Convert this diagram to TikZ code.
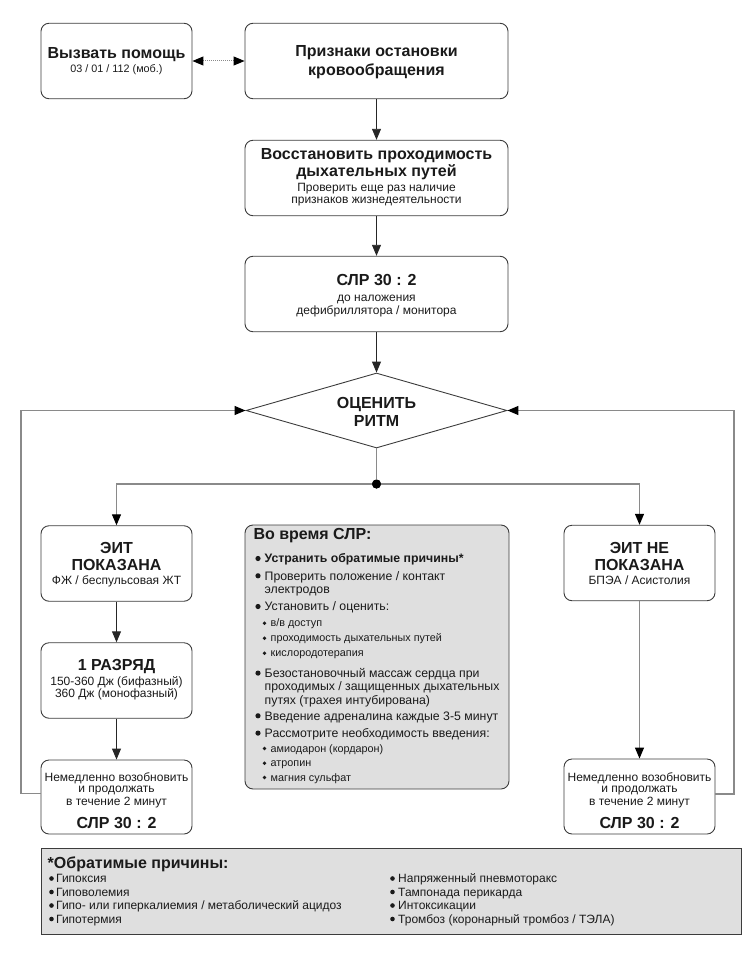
\documentclass[tikz,border=0pt]{standalone}
\usepackage{fontspec}
\setmainfont{Liberation Sans}
\usetikzlibrary{shapes.geometric,arrows.meta}
\definecolor{edge}{HTML}{3C3C3C}
\definecolor{lgray}{HTML}{8A8A8A}
\definecolor{boxfill}{HTML}{DFDFDF}
\definecolor{ink}{HTML}{1A1A1A}
\newcommand\fT{\fontsize{16}{19}\selectfont\bfseries}
\newcommand\fS{\fontsize{12}{14}\selectfont}
\newcommand\fSs{\fontsize{10.8}{13}\selectfont}
\newcommand\fM{\fontsize{12.3}{15}\selectfont}
\newcommand\fX{\fontsize{10.8}{12}\selectfont}
\begin{document}
\begin{tikzpicture}[x=1pt,y=-1pt,
  box/.style={draw=edge, line width=0.9pt, rounded corners=8pt, minimum height=75.5pt, inner sep=0pt},
  txt/.style={anchor=base, inner sep=0pt, text=ink},
  ltxt/.style={anchor=base west, inner sep=0pt, text=ink},
  arr/.style={draw=black!85, line width=0.9pt, -{Triangle[length=11pt,width=9pt]}},
  garr/.style={draw=lgray, line width=1.2pt, -{Triangle[length=11pt,width=9pt,color=black]}},
  gline/.style={draw=lgray, line width=1.2pt},
  dotline/.style={draw=lgray, line width=1pt, densely dotted, {Triangle[length=11pt,width=9pt,color=black]}-{Triangle[length=11pt,width=9pt,color=black]}},
]
\useasboundingbox (0,0) rectangle (755,958);

% boxes
\node[box, minimum width=151pt] (help) at (116.5,61) {};
\node[box, minimum width=263pt] (signs) at (376.5,61) {};
\node[box, minimum width=263pt] (airway) at (376.5,178) {};
\node[box, minimum width=263pt] (cpr) at (376.5,294) {};
\node[diamond, draw=edge, line width=0.9pt, minimum width=261pt, minimum height=75pt, inner sep=0pt] (rhythm) at (376.5,410.5) {};
\node[circle, fill=black, minimum size=9pt, inner sep=0pt] (dot) at (376.5,484) {};
\node[box, minimum width=151pt] (shock) at (116.5,563.5) {};
\node[box, minimum width=151pt] (shot) at (116.5,680.5) {};
\node[box, minimum width=151pt, minimum height=74pt] (resL) at (116.5,797) {};
\node[box, minimum width=151pt] (noshock) at (639.5,563) {};
\node[box, minimum width=151pt, minimum height=75pt] (resR) at (639.5,796.5) {};
\node[box, fill=boxfill, minimum width=264pt, minimum height=264pt] (during) at (377,657) {};
\node[draw=edge, fill=boxfill, line width=0.9pt, minimum width=700pt, minimum height=86pt, inner sep=0pt] (causes) at (391,891) {};

% connectors
\draw[dotline] (help) -- (signs);
\draw[arr] (signs) -- (airway);
\draw[arr] (airway) -- (cpr);
\draw[arr] (cpr) -- (rhythm);
\draw[gline] (rhythm) -- (dot);
\draw[garr] (dot.center) -| (shock.north);
\draw[garr] (dot.center) -| (noshock.north);
\draw[arr] (shock) -- (shot);
\draw[arr] (shot) -- (resL);
\draw[garr] (noshock) -- (resR);
\draw[garr] ([yshift=3.5pt]resL.west) -- ++(-19.5,0) |- (rhythm.west);
\draw[garr] ([yshift=2.5pt]resR.east) -- ++(18.5,0) |- (rhythm.east);
\fill[black] (dot.center) circle (4.5);

% texts in boxes
\node[txt, font=\fT] (help1) at (116.5,58.3) {Вызвать помощь};
\node[txt, font=\fSs] (help2) at (116.5,72.7) {03 / 01 / 112 (моб.)};
\node[txt, font=\fT] (signs1) at (376.5,56.7) {Признаки остановки};
\node[txt, font=\fT] (signs2) at (376.5,75) {кровообращения};
\node[txt, font=\fT] (airway1) at (376.5,159.3) {Восстановить проходимость};
\node[txt, font=\fT] (airway2) at (376.5,176.7) {дыхательных путей};
\node[txt, font=\fS] (airway3) at (376.5,191) {Проверить еще раз наличие};
\node[txt, font=\fS] (airway4) at (376.5,203.3) {признаков жизнедеятельности};
\node[txt, font=\fT] (cpr1) at (376.5,285) {СЛР 30 : 2};
\node[txt, font=\fS] (cpr2) at (376.5,301) {до наложения};
\node[txt, font=\fS] (cpr3) at (376.5,314) {дефибриллятора / монитора};
\node[txt, font=\fT] (rhythm1) at (376.5,408.3) {ОЦЕНИТЬ};
\node[txt, font=\fT] (rhythm2) at (376.5,426.7) {РИТМ};
\node[txt, font=\fT] (shock1) at (116.5,553.3) {ЭИТ};
\node[txt, font=\fT] (shock2) at (116.5,570.7) {ПОКАЗАНА};
\node[txt, font=\fS] (shock3) at (116.5,584.3) {ФЖ / беспульсовая ЖТ};
\node[txt, font=\fT] (shot1) at (116.5,670.7) {1 РАЗРЯД};
\node[txt, font=\fS] (shot2) at (116.5,685) {150-360 Дж (бифазный)};
\node[txt, font=\fS] (shot3) at (116.5,697.7) {360 Дж (монофазный)};
\node[txt, font=\fS] (resL1) at (116.5,781) {Немедленно возобновить};
\node[txt, font=\fS] (resL2) at (116.5,792.7) {и продолжать};
\node[txt, font=\fS] (resL3) at (116.5,805) {в течение 2 минут};
\node[txt, font=\fT] (resL4) at (116.5,828.3) {СЛР 30 : 2};
\node[txt, font=\fT] (noshock1) at (639.5,553.3) {ЭИТ НЕ};
\node[txt, font=\fT] (noshock2) at (639.5,570.7) {ПОКАЗАНА};
\node[txt, font=\fS] (noshock3) at (639.5,584.3) {БПЭА / Асистолия};
\node[txt, font=\fS] (resR1) at (639.5,781) {Немедленно возобновить};
\node[txt, font=\fS] (resR2) at (639.5,792.7) {и продолжать};
\node[txt, font=\fS] (resR3) at (639.5,805) {в течение 2 минут};
\node[txt, font=\fT] (resR4) at (639.5,828.3) {СЛР 30 : 2};

% during CPR box
\node[ltxt, font=\fT] (d0) at (253.3,539.3) {Во время СЛР:};
\foreach \yy/\tt/\nm in {562.7/{\bfseries Устранить обратимые причины*}/d1,
  580/{Проверить положение / контакт}/d2,
  610.7/{Установить / оценить:}/d3,
  677.3/{Безостановочный массаж сердца при}/d5,
  720/{Введение адреналина каждые 3-5 минут}/d8,
  737.3/{Рассмотрите необходимость введения:}/d9}{
  \fill[ink] (258,\yy-4.2) circle (2.6);
  \node[ltxt, font=\fM] (\nm) at (264.5,\yy) {\tt};
}
\node[ltxt, font=\fM] (d2b) at (264.5,593.3) {электродов};
\node[ltxt, font=\fM] (d5b) at (264.5,690.7) {проходимых / защищенных дыхательных};
\node[ltxt, font=\fM] (d5c) at (264.5,704) {путях (трахея интубирована)};
\foreach \yy/\tt/\nm in {626.7/{в/в доступ}/s1, 641.7/{проходимость дыхательных путей}/s2,
  656.7/{кислородотерапия}/s3, 752/{амиодарон (кордарон)}/s4, 766.7/{атропин}/s5, 781/{магния сульфат}/s6}{
  \fill[ink] (264.5,\yy-3.5) circle (1.9);
  \node[ltxt, font=\fX] (\nm) at (270.5,\yy) {\tt};
}

% reversible causes box
\node[ltxt, font=\fT] (c0) at (47.5,868.3) {*Обратимые причины:};
\foreach \yy/\tt/\nm in {882.5/Гипоксия/c1, 896/Гиповолемия/c2,
  909.5/{Гипо- или гиперкалиемия / метаболический ацидоз}/c3, 923/Гипотермия/c4}{
  \fill[ink] (51.5,\yy-4) circle (2.3);
  \node[ltxt, font=\fS] (\nm) at (56,\yy) {\tt};
}
\foreach \yy/\tt/\nm in {882.5/{Напряженный пневмоторакс}/c5, 896/{Тампонада перикарда}/c6,
  909.5/Интоксикации/c7, 923/{Тромбоз (коронарный тромбоз / ТЭЛА)}/c8}{
  \fill[ink] (392.5,\yy-4) circle (2.3);
  \node[ltxt, font=\fS] (\nm) at (398,\yy) {\tt};
}
\end{tikzpicture}
\end{document}
